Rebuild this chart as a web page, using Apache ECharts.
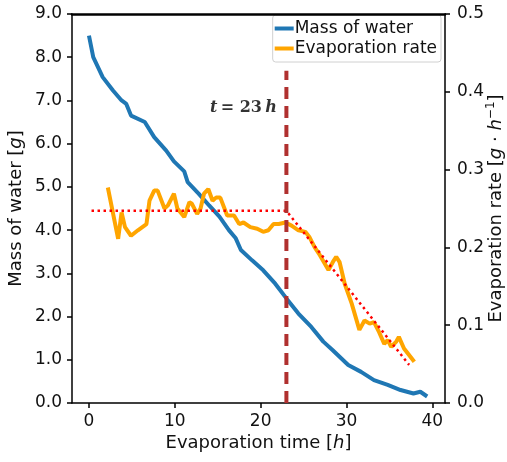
<!DOCTYPE html>
<html>
<head>
<meta charset="utf-8">
<script src="https://cdn.jsdelivr.net/npm/echarts@6/dist/echarts.min.js"></script>
<style>
  html, body { margin: 0; padding: 0; background: #fff; }
  #chart { width: 507px; height: 462px; }
</style>
</head>
<body>
<div id="chart"></div>
<script>
// mass of water [g] vs time [h]
const massTime = [0, 0.5, 1.6, 2.8, 3.8, 4.35, 4.9, 6.5, 7.6, 9.0, 9.9, 11.1, 11.5, 12.8, 14.0, 15.2, 16.3, 17.1, 17.7, 19.0, 20.3, 21.7, 23.0, 24.4, 25.9, 27.3, 28.4, 30.2, 31.7, 33.2, 34.8, 36.3, 37.8, 38.6, 39.4];
const massWater = [8.5, 8.0, 7.54, 7.23, 7.0, 6.92, 6.65, 6.5, 6.15, 5.84, 5.59, 5.36, 5.11, 4.84, 4.57, 4.31, 4.0, 3.81, 3.54, 3.30, 3.07, 2.76, 2.42, 2.07, 1.76, 1.42, 1.22, 0.88, 0.72, 0.53, 0.42, 0.30, 0.22, 0.26, 0.15];

// evaporation rate [g/h] vs time [h]
const rateTime = [2.2, 3.4, 3.8, 4.2, 4.9, 5.7, 6.7, 7.05, 7.6, 8.0, 8.8, 9.2, 9.9, 10.3, 11.1, 11.7, 12.0, 12.6, 13.0, 13.4, 13.9, 14.4, 14.8, 15.3, 16.1, 16.9, 17.5, 18.0, 18.8, 19.6, 20.3, 20.9, 21.5, 22.1, 22.9, 23.6, 24.4, 25.2, 25.7, 26.3, 26.9, 27.9, 28.4, 28.8, 29.2, 29.8, 30.6, 31.5, 32.1, 32.7, 33.2, 33.8, 34.4, 34.8, 35.2, 35.8, 36.1, 36.7, 37.9];
const evapRate = [0.277, 0.211, 0.245, 0.226, 0.215, 0.222, 0.230, 0.260, 0.273, 0.273, 0.250, 0.254, 0.269, 0.250, 0.239, 0.258, 0.256, 0.243, 0.250, 0.269, 0.275, 0.260, 0.264, 0.264, 0.241, 0.241, 0.230, 0.232, 0.226, 0.224, 0.220, 0.222, 0.230, 0.230, 0.232, 0.228, 0.222, 0.220, 0.213, 0.200, 0.190, 0.171, 0.181, 0.188, 0.181, 0.153, 0.128, 0.094, 0.106, 0.102, 0.104, 0.091, 0.076, 0.081, 0.072, 0.079, 0.085, 0.070, 0.053];

// fitted trend (red dotted)
const fitTime = [0.3, 23, 37.3];
const fitRate = [0.247, 0.247, 0.049];

// transition marker
const transTime = 23;
const transRateRange = [0, 0.427];
const transLabel = { time: 18.0, rate: 0.38 };

const xTicks = [0, 10, 20, 30, 40];
const xRange = [-1.975, 41.475];

const pairs = (xs, ys) => xs.map((x, i) => [x, ys[i]]);

const font = 'DejaVu Sans';
const ink = '#111';
// fresh object each time, echarts may keep references
const spine = (w) => ({ color: '#000', width: w || 1.5 });

const chart = echarts.init(document.getElementById('chart'));
chart.setOption({
  animation: false,
  grid: {
    left: 72, right: 62, top: 14, bottom: 59,
    containLabel: false,
    outerBoundsMode: 'none'
  },
  legend: {
    data: ['Mass of water', 'Evaporation rate'],
    orient: 'vertical',
    right: 66, top: 15,
    icon: 'rect', itemWidth: 19, itemHeight: 4, itemGap: 3,
    padding: [5, 4, 5, 2],
    borderColor: '#d0d0d0', borderWidth: 1, borderRadius: 3,
    backgroundColor: 'rgba(255,255,255,0.8)',
    textStyle: { fontFamily: font, fontSize: 17, color: ink, padding: [0, 0, 0, -4] }
  },
  xAxis: [{
    type: 'value', position: 'bottom',
    min: xRange[0], max: xRange[1],
    name: 'Evaporation time [{i|h}]',
    nameLocation: 'middle', nameGap: 31, nameMoveOverlap: false,
    nameTextStyle: {
      fontFamily: font, fontSize: 18, color: ink,
      rich: { i: { fontFamily: font, fontStyle: 'italic', fontSize: 18, color: ink } }
    },
    axisLine: { onZero: false, lineStyle: spine() },
    axisTick: { customValues: xTicks, length: 5, lineStyle: spine() },
    axisLabel: { customValues: xTicks, margin: 10, fontFamily: font, fontSize: 17, color: ink },
    splitLine: { show: false }
  }, {
    // top spine
    type: 'value', position: 'top', show: true, z: 10,
    min: xRange[0], max: xRange[1],
    axisLine: { show: true, onZero: false, lineStyle: { color: '#000000', width: 2.5 } },
    axisTick: { show: false },
    axisLabel: { show: false },
    splitLine: { show: false }
  }],
  yAxis: [{
    type: 'value', position: 'left',
    min: 0, max: 9, interval: 1,
    name: 'Mass of water [{i|g}]',
    nameLocation: 'middle', nameGap: 47, nameRotate: 90, nameMoveOverlap: false,
    nameTextStyle: {
      fontFamily: font, fontSize: 18, color: ink,
      rich: { i: { fontFamily: font, fontStyle: 'italic', fontSize: 18, color: ink } }
    },
    axisLine: { show: true, onZero: false, lineStyle: spine() },
    axisTick: { show: true, length: 5, lineStyle: spine() },
    axisLabel: { margin: 10, fontFamily: font, fontSize: 17, color: ink, formatter: v => v.toFixed(1) },
    splitLine: { show: false }
  }, {
    type: 'value', position: 'right',
    min: 0, max: 0.5, interval: 0.1,
    name: 'Evaporation rate [{i|g} · {i|h}{s|−1}]',
    nameLocation: 'middle', nameGap: 40, nameRotate: 90, nameMoveOverlap: false,
    nameTextStyle: {
      fontFamily: font, fontSize: 18, color: ink,
      rich: {
        i: { fontFamily: font, fontStyle: 'italic', fontSize: 18, color: ink },
        s: { fontFamily: font, fontSize: 12, color: ink, verticalAlign: 'top', padding: [0, 0, 10, 0] }
      }
    },
    axisLine: { show: true, onZero: false, lineStyle: spine() },
    axisTick: { show: true, length: 5, lineStyle: spine() },
    axisLabel: { margin: 12, fontFamily: font, fontSize: 17, color: ink, formatter: v => v.toFixed(1) },
    splitLine: { show: false }
  }],
  series: [{
    name: 'Mass of water', type: 'line', yAxisIndex: 0,
    data: pairs(massTime, massWater),
    symbol: 'none', color: '#1f77b4',
    lineStyle: { width: 4, color: '#1f77b4' }
  }, {
    name: 'Evaporation rate', type: 'line', yAxisIndex: 1,
    data: pairs(rateTime, evapRate),
    symbol: 'none', color: '#ffa500',
    lineStyle: { width: 4, color: '#ffa500' }
  }, {
    name: 'fit', type: 'line', yAxisIndex: 1,
    data: pairs(fitTime, fitRate),
    symbol: 'none', z: 3,
    lineStyle: { width: 2.5, color: '#ff0000', type: [2.5, 3.5] }
  }, {
    name: 'transition', type: 'line', yAxisIndex: 1,
    data: transRateRange.map(r => [transTime, r]),
    symbol: 'none', z: 4,
    lineStyle: { width: 4, color: '#b0302f', type: [12, 7] }
  }, {
    name: 'label', type: 'scatter', yAxisIndex: 1,
    data: [[transLabel.time, transLabel.rate]],
    symbolSize: 0, silent: true,
    label: {
      show: true, position: 'inside',
      formatter: '{it|t} {b|= 23} {it|h}',
      rich: {
        it: { fontFamily: 'DejaVu Serif', fontStyle: 'italic', fontWeight: 'bold', fontSize: 16, color: '#000' },
        b: { fontFamily: 'DejaVu Serif', fontWeight: 'bold', fontSize: 16, color: '#000' }
      }
    }
  }]
});
</script>
</body>
</html>
